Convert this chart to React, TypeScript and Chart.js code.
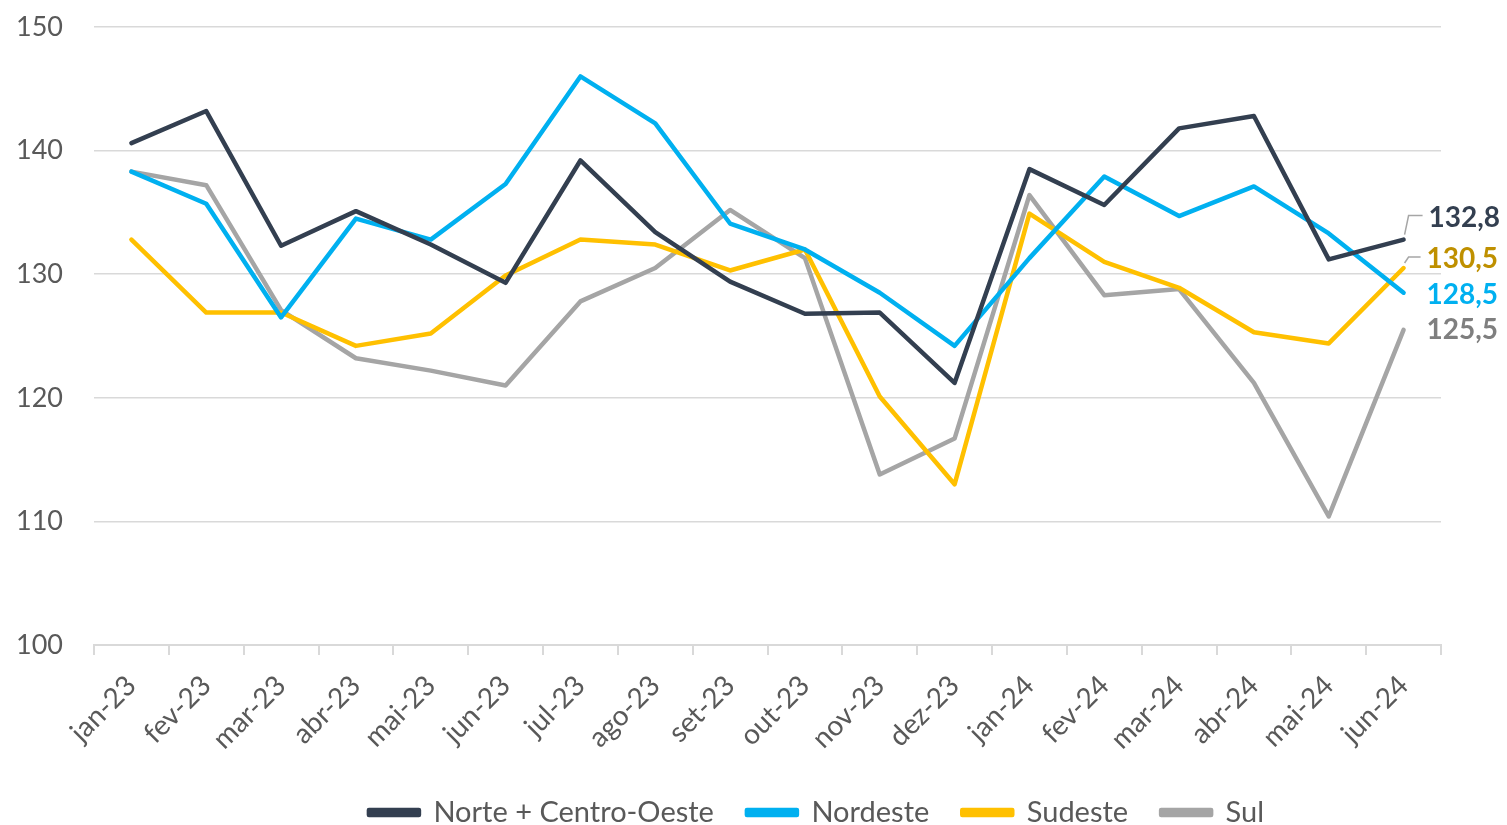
import React, { useEffect, useRef } from "react";
import { Chart, registerables } from "chart.js";

Chart.register(...registerables);

const categories = [
  "jan-23", "fev-23", "mar-23", "abr-23", "mai-23", "jun-23", "jul-23", "ago-23", "set-23",
  "out-23", "nov-23", "dez-23", "jan-24", "fev-24", "mar-24", "abr-24", "mai-24", "jun-24",
];

const norteCentroOeste = [140.6, 143.2, 132.3, 135.1, 132.4, 129.3, 139.2, 133.4, 129.4, 126.8, 126.9, 121.2, 138.5, 135.6, 141.8, 142.8, 131.2, 132.8];
const nordeste = [138.3, 135.7, 126.5, 134.5, 132.8, 137.3, 146.0, 142.2, 134.1, 132.0, 128.5, 124.2, 131.3, 137.9, 134.7, 137.1, 133.3, 128.5];
const sudeste = [132.8, 126.9, 126.9, 124.2, 125.2, 129.9, 132.8, 132.4, 130.3, 132.0, 120.1, 113.0, 134.9, 131.0, 128.9, 125.3, 124.4, 130.5];
const sul = [138.3, 137.2, 127.1, 123.2, 122.2, 121.0, 127.8, 130.5, 135.2, 131.3, 113.8, 116.7, 136.4, 128.3, 128.8, 121.2, 110.4, 125.5];

const seriesNames = ["Norte + Centro-Oeste", "Nordeste", "Sudeste", "Sul"];
const lineColors = ["#333F50", "#00B0F0", "#FFC000", "#A5A5A5"];
const labelColors = ["#333F50", "#00B0F0", "#BF9000", "#7F7F7F"];
// [dx, dy, leader]
const labelOffsets: [number, number, boolean][] = [
  [25, -22, true],
  [23, 2, false],
  [23, -9, true],
  [23, 0, false],
];
const LEGEND_SHIFT = 96;

const FONT = "Lato, 'Open Sans', sans-serif";

const endLabels = {
  id: "endLabels",
  afterDatasetsDraw(chart: any) {
    const ctx = chart.ctx;
    ctx.save();
    chart.data.datasets.forEach((ds: any, i: number) => {
      const meta = chart.getDatasetMeta(i);
      const pt = meta.data[meta.data.length - 1];
      const v = ds.data[ds.data.length - 1] as number;
      const [dx, dy, leader] = labelOffsets[i];
      const tx = pt.x + dx;
      const ty = pt.y + dy;
      if (leader) {
        ctx.strokeStyle = "#A6A6A6";
        ctx.lineWidth = 1.5;
        ctx.beginPath();
        ctx.moveTo(pt.x + 1, pt.y - 5);
        ctx.lineTo(pt.x + 5, ty - 2);
        ctx.lineTo(tx - 6, ty - 2);
        ctx.stroke();
      }
      ctx.fillStyle = labelColors[i];
      ctx.font = `bold 28px ${FONT}`;
      ctx.textAlign = "left";
      ctx.textBaseline = "middle";
      ctx.fillText(v.toFixed(1).replace(".", ","), tx, ty);
    });
    ctx.restore();
  },
};

const legendShift = {
  id: "legendShift",
  afterLayout(chart: any) {
    if (chart.legend) {
      chart.legend.left += LEGEND_SHIFT;
      chart.legend.right += LEGEND_SHIFT;
    }
  },
};

export default function App() {
  const ref = useRef<HTMLCanvasElement>(null);
  useEffect(() => {
    const datasets = [norteCentroOeste, nordeste, sudeste, sul].map((d, i) => ({
      label: seriesNames[i],
      data: d,
      borderColor: lineColors[i],
      backgroundColor: lineColors[i],
      borderWidth: 4.5,
      pointRadius: 0,
      tension: 0,
      borderCapStyle: "round" as const,
      borderJoinStyle: "round" as const,
    }));
    const chart = new Chart(ref.current!, {
      type: "line",
      data: { labels: categories, datasets },
      plugins: [endLabels, legendShift],
      options: {
        animation: false,
        responsive: false,
        layout: { padding: { left: 0, right: 66, top: 27, bottom: 0 } },
        plugins: {
          tooltip: { enabled: false },
          legend: {
            position: "bottom",
            labels: {
              font: { family: FONT, size: 29 },
              color: "#595959",
              boxWidth: 50,
              boxHeight: 5,
              padding: 33,
            },
          },
        },
        scales: {
          x: {
            offset: true,
            grid: {
              offset: true,
              drawOnChartArea: false,
              drawTicks: true,
              tickLength: 10,
              color: "#D9D9D9",
              lineWidth: 2,
            },
            border: { color: "#D9D9D9", width: 2 },
            ticks: {
              font: { family: FONT, size: 28 },
              color: "#595959",
              maxRotation: 45,
              minRotation: 45,
              padding: 14,
            },
            afterFit(scale: any) {
              scale.height = 120;
            },
          },
          y: {
            min: 100,
            max: 150,
            grid: {
              color: "#D9D9D9",
              lineWidth: 1.5,
              drawTicks: true,
              tickLength: 26,
              tickColor: "rgba(0,0,0,0)",
            },
            border: { display: false },
            ticks: {
              stepSize: 10,
              font: { family: FONT, size: 27 },
              color: "#595959",
              padding: 5,
            },
            afterFit(scale: any) {
              scale.width = 94;
            },
          },
        },
      },
    });
    return () => chart.destroy();
  }, []);
  return (
    <div style={{ position: "fixed", left: 0, top: 0, width: 1507, height: 825, background: "#fff", overflow: "hidden" }}>
      <canvas ref={ref} width={1507} height={837} />
    </div>
  );
}
